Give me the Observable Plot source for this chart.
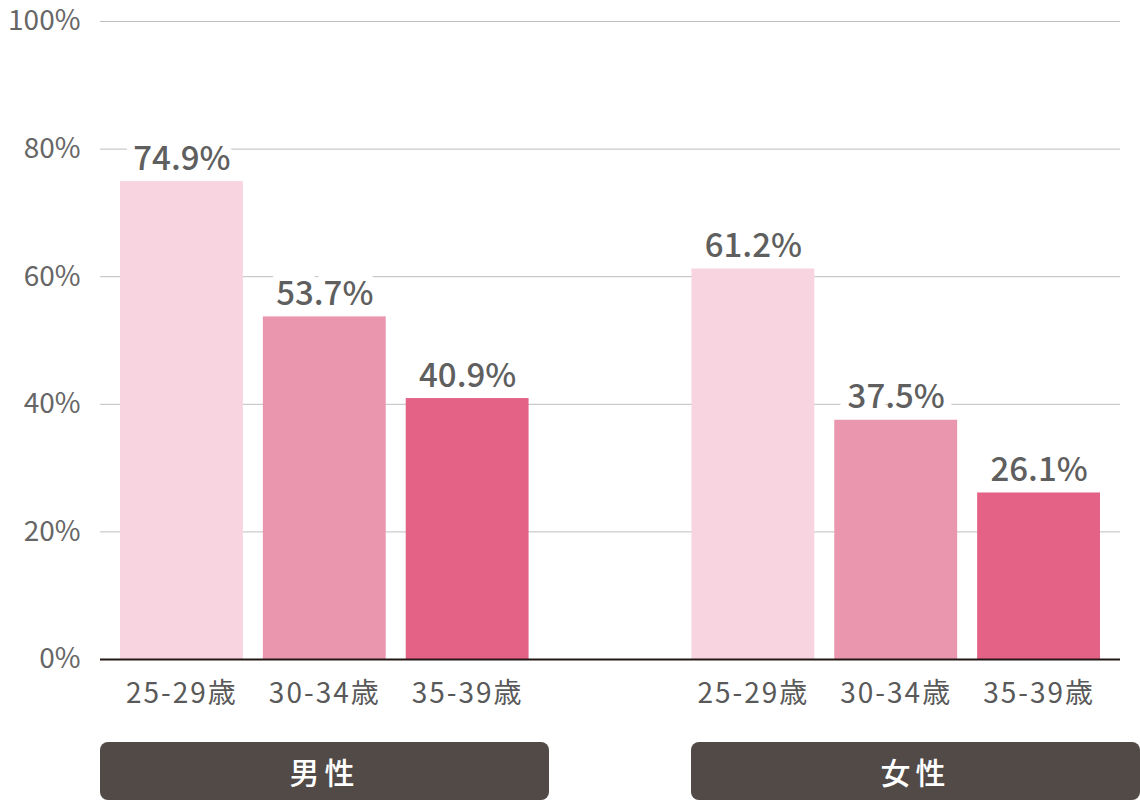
<!DOCTYPE html>
<html>
<head>
<meta charset="utf-8">
<script src="https://cdn.jsdelivr.net/npm/d3@7"></script>
<script src="https://cdn.jsdelivr.net/npm/@observablehq/plot@0.6"></script>
<style>
  html, body { margin: 0; padding: 0; background: #fff; }
  #wrap { position: relative; width: 1140px; height: 800px; overflow: hidden; }
  #wrap g[aria-label="x-axis tick label"] text { letter-spacing: 2px; }
  .grp { position: absolute; top: 742px; height: 58px; background: #514a47; border-radius: 8px;
         color: #fff; font-family: "Noto Sans CJK JP", sans-serif; font-size: 30px; font-weight: 500;
         display: flex; align-items: center; justify-content: center; letter-spacing: 5px; }
</style>
</head>
<body>
<div id="wrap"></div>
<script>
const genders = ["男性", "女性"];
const ages = ["25-29歳", "30-34歳", "35-39歳"];
const maleValues = [74.9, 53.7, 40.9];
const femaleValues = [61.2, 37.5, 26.1];
const yTicks = [0, 20, 40, 60, 80, 100];
const colors = ["#f7d4df", "#ea96ae", "#e46286"];

const seriesByGender = [maleValues, femaleValues];
const rows = [];
genders.forEach((g, gi) => ages.forEach((a, ai) => rows.push({gender: g, age: a, key: g + "|" + a, value: seriesByGender[gi][ai]})));
const spacer = "|";
const xDomain = [...rows.slice(0, 3).map(d => d.key), spacer, ...rows.slice(3).map(d => d.key)];

const font = '"Noto Sans CJK JP", "Noto Sans", sans-serif';

const chart = Plot.plot({
  width: 1140,
  height: 720,
  marginTop: 21,
  marginBottom: 61,
  marginLeft: 100,
  marginRight: 20,
  style: {fontFamily: font, background: "#fff"},
  x: {domain: xDomain, paddingInner: 0.14, paddingOuter: 0.14, round: false, axis: null},
  y: {domain: [0, 100], axis: null},
  color: {domain: ages, range: colors},
  marks: [
    Plot.gridY(yTicks, {stroke: "#bdbdbd", strokeOpacity: 1, strokeWidth: 1}),
    Plot.axisY(yTicks, {tickSize: 0, tickPadding: 20, tickFormat: d => d + "%", fontSize: 28, fill: "#666", fontWeight: 400, label: null}),
    Plot.barY(rows, {x: "key", y: "value", fill: "age"}),
    Plot.ruleY([0], {stroke: "#231815", strokeWidth: 2}),
    Plot.text(rows, {x: "key", y: "value", text: d => d.value.toFixed(1) + "%", lineAnchor: "bottom", dy: -12,
      fontSize: 33, fontWeight: 500, fill: "#5f5f5f", stroke: "#fff", strokeWidth: 16}),
    Plot.axisX(rows.map(d => d.key), {tickSize: 0, tickPadding: 24, tickFormat: d => d.split("|")[1], fontSize: 28, fill: "#595959", fontWeight: 400, label: null})
  ]
});
const wrap = document.getElementById("wrap");
wrap.appendChild(chart);

const boxes = [{left: 100, width: 449}, {left: 691, width: 449}];
genders.forEach((g, i) => {
  const div = document.createElement("div");
  div.className = "grp";
  div.style.left = boxes[i].left + "px";
  div.style.width = boxes[i].width + "px";
  div.textContent = g;
  wrap.appendChild(div);
});
</script>
</body>
</html>
